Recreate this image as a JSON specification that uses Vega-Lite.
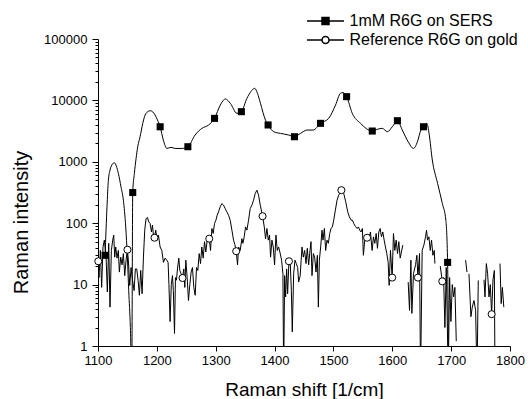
{
  "$schema": "https://vega.github.io/schema/vega-lite/v6.json",
  "width": 412,
  "height": 307,
  "autosize": {"type": "none"},
  "padding": {"left": 98, "top": 39, "right": 18, "bottom": 53},
  "background": "white",
  "config": {
    "view": {"stroke": null},
    "font": "Liberation Sans",
    "axis": {
      "grid": false,
      "domainColor": "black",
      "tickColor": "black",
      "labelColor": "black",
      "titleColor": "black",
      "labelFont": "Liberation Sans",
      "titleFont": "Liberation Sans",
      "labelFontSize": 13,
      "titleFontSize": 19,
      "titleFontWeight": "normal",
      "domainWidth": 1,
      "tickWidth": 1
    },
    "legend": {
      "labelFont": "Liberation Sans",
      "labelFontSize": 16,
      "labelColor": "black",
      "labelLimit": 400
    }
  },
  "datasets": {
    "sers": [
      {"x": 1112, "v": 30}, {"x": 1115.3, "v": 185}, {"x": 1117.6, "v": 500}, {"x": 1120.4, "v": 730},
      {"x": 1124.4, "v": 915}, {"x": 1127.8, "v": 965}, {"x": 1131.2, "v": 850}, {"x": 1134.6, "v": 645},
      {"x": 1139.1, "v": 390}, {"x": 1143.1, "v": 237}, {"x": 1147.1, "v": 87}, {"x": 1149.9, "v": 28},
      {"x": 1152.2, "v": 8}, {"x": 1155, "v": 2}, {"x": 1157.3, "v": 0.3}, {"x": 1159, "v": 316},
      {"x": 1161.8, "v": 646}, {"x": 1164.7, "v": 1135}, {"x": 1167.5, "v": 1760}, {"x": 1171.5, "v": 2560},
      {"x": 1176, "v": 4200}, {"x": 1180, "v": 5780}, {"x": 1184, "v": 6500}, {"x": 1188.6, "v": 6790},
      {"x": 1193, "v": 6500}, {"x": 1197, "v": 5780}, {"x": 1201, "v": 4800}, {"x": 1205.6, "v": 3720},
      {"x": 1211, "v": 2260}, {"x": 1217, "v": 1650}, {"x": 1224, "v": 1720}, {"x": 1231, "v": 1650},
      {"x": 1242.5, "v": 1650}, {"x": 1252.7, "v": 1760}, {"x": 1265, "v": 2730}, {"x": 1276.6, "v": 3510},
      {"x": 1288, "v": 3980}, {"x": 1298, "v": 5100}, {"x": 1307.8, "v": 8410}, {"x": 1316.3, "v": 10540},
      {"x": 1324.8, "v": 8970}, {"x": 1336, "v": 6170}, {"x": 1343.6, "v": 6550}, {"x": 1353, "v": 10800},
      {"x": 1360, "v": 14000}, {"x": 1366, "v": 15740}, {"x": 1371, "v": 13000}, {"x": 1376, "v": 8970},
      {"x": 1384.5, "v": 4790}, {"x": 1389, "v": 3980}, {"x": 1398.6, "v": 3090}, {"x": 1410, "v": 2900},
      {"x": 1424, "v": 2730}, {"x": 1433.8, "v": 2560}, {"x": 1444, "v": 2900}, {"x": 1455.5, "v": 3290},
      {"x": 1465.7, "v": 3290}, {"x": 1478, "v": 4230}, {"x": 1492, "v": 5100}, {"x": 1503.6, "v": 8410},
      {"x": 1512, "v": 13060}, {"x": 1516.7, "v": 13400}, {"x": 1522.4, "v": 11500}, {"x": 1532, "v": 6170},
      {"x": 1546, "v": 4230}, {"x": 1566, "v": 3170}, {"x": 1574.6, "v": 3380}, {"x": 1583, "v": 3510},
      {"x": 1591.7, "v": 3090}, {"x": 1600, "v": 3720}, {"x": 1608.7, "v": 4670}, {"x": 1617, "v": 3290},
      {"x": 1627, "v": 2120}, {"x": 1636, "v": 1650}, {"x": 1642.7, "v": 2120}, {"x": 1648.5, "v": 3290},
      {"x": 1653, "v": 3720}, {"x": 1658.7, "v": 4230}, {"x": 1662.7, "v": 2800}, {"x": 1668, "v": 1070},
      {"x": 1677, "v": 445}, {"x": 1685, "v": 210}, {"x": 1691, "v": 112}, {"x": 1694, "v": 23},
      {"x": 1695.6, "v": 0.3}
    ],
    "ref": [
      {"x": 1100, "v": 23}, {"x": 1101.7, "v": 13}, {"x": 1104, "v": 36}, {"x": 1106.2, "v": 9},
      {"x": 1108.5, "v": 41}, {"x": 1110.8, "v": 53}, {"x": 1113.6, "v": 30}, {"x": 1115.9, "v": 7.6},
      {"x": 1118.2, "v": 47}, {"x": 1120.4, "v": 4.3}, {"x": 1122.7, "v": 36}, {"x": 1125, "v": 53},
      {"x": 1126.7, "v": 64}, {"x": 1128.4, "v": 28}, {"x": 1130.1, "v": 41}, {"x": 1132.3, "v": 27},
      {"x": 1134.6, "v": 36}, {"x": 1136.3, "v": 16}, {"x": 1138.6, "v": 28}, {"x": 1140.9, "v": 21},
      {"x": 1143.1, "v": 32}, {"x": 1145.4, "v": 14}, {"x": 1147.7, "v": 25}, {"x": 1149.9, "v": 37},
      {"x": 1151.6, "v": 25}, {"x": 1153.9, "v": 9.7}, {"x": 1156.2, "v": 19}, {"x": 1158.5, "v": 12},
      {"x": 1161.3, "v": 8}, {"x": 1163.5, "v": 18}, {"x": 1165.8, "v": 18}, {"x": 1168.1, "v": 11.7},
      {"x": 1170.3, "v": 6.7}, {"x": 1172.6, "v": 17}, {"x": 1174.9, "v": 7.1}, {"x": 1177.2, "v": 28},
      {"x": 1179.4, "v": 77}, {"x": 1181.7, "v": 119}, {"x": 1184, "v": 124}, {"x": 1186.2, "v": 105},
      {"x": 1188.5, "v": 99}, {"x": 1190.8, "v": 72}, {"x": 1192.5, "v": 93}, {"x": 1194.2, "v": 64},
      {"x": 1195.9, "v": 58}, {"x": 1198.1, "v": 77}, {"x": 1200.4, "v": 53}, {"x": 1202.7, "v": 64},
      {"x": 1205.5, "v": 41}, {"x": 1208.4, "v": 36}, {"x": 1211.2, "v": 23}, {"x": 1214, "v": 27},
      {"x": 1216.9, "v": 25}, {"x": 1219.1, "v": 23}, {"x": 1220.5, "v": 10}, {"x": 1222.5, "v": 2.5},
      {"x": 1224.5, "v": 10}, {"x": 1226.5, "v": 14}, {"x": 1228, "v": 8}, {"x": 1230, "v": 1.6},
      {"x": 1231.6, "v": 13}, {"x": 1233.3, "v": 11.8}, {"x": 1235, "v": 18}, {"x": 1237.3, "v": 27},
      {"x": 1239, "v": 17}, {"x": 1241.3, "v": 15}, {"x": 1243.5, "v": 12.8}, {"x": 1245.8, "v": 18},
      {"x": 1247.5, "v": 9}, {"x": 1249.2, "v": 25}, {"x": 1251.5, "v": 13}, {"x": 1253.7, "v": 5.5},
      {"x": 1256, "v": 10}, {"x": 1258.3, "v": 16}, {"x": 1260.5, "v": 19}, {"x": 1262.8, "v": 9},
      {"x": 1265.1, "v": 6.7}, {"x": 1267.4, "v": 19}, {"x": 1269.6, "v": 17}, {"x": 1271.9, "v": 32},
      {"x": 1274.2, "v": 22}, {"x": 1276.4, "v": 41}, {"x": 1278.7, "v": 27}, {"x": 1281, "v": 50},
      {"x": 1283.2, "v": 34}, {"x": 1285.5, "v": 53}, {"x": 1289, "v": 56}, {"x": 1291.2, "v": 36},
      {"x": 1293.5, "v": 82}, {"x": 1295.7, "v": 68}, {"x": 1298, "v": 99}, {"x": 1300.3, "v": 112},
      {"x": 1302.5, "v": 135}, {"x": 1304.8, "v": 153}, {"x": 1307.6, "v": 185}, {"x": 1310.5, "v": 209},
      {"x": 1313.3, "v": 197}, {"x": 1316.1, "v": 173}, {"x": 1318.9, "v": 153}, {"x": 1321.8, "v": 135},
      {"x": 1324.6, "v": 112}, {"x": 1327.5, "v": 77}, {"x": 1330.3, "v": 53}, {"x": 1332.5, "v": 45},
      {"x": 1334.8, "v": 35}, {"x": 1337.1, "v": 21}, {"x": 1338.8, "v": 41}, {"x": 1341.6, "v": 36},
      {"x": 1344.5, "v": 56}, {"x": 1346.2, "v": 47}, {"x": 1348.4, "v": 60}, {"x": 1350.7, "v": 87},
      {"x": 1353, "v": 77}, {"x": 1355.8, "v": 112}, {"x": 1358.6, "v": 173}, {"x": 1361.5, "v": 197},
      {"x": 1364.3, "v": 237}, {"x": 1367.1, "v": 305}, {"x": 1370, "v": 345}, {"x": 1372.8, "v": 286},
      {"x": 1375.7, "v": 197}, {"x": 1379.6, "v": 130}, {"x": 1382.5, "v": 87}, {"x": 1384.7, "v": 56},
      {"x": 1387, "v": 82}, {"x": 1389.3, "v": 53}, {"x": 1391.5, "v": 64}, {"x": 1393.2, "v": 28},
      {"x": 1395.5, "v": 53}, {"x": 1397.8, "v": 41}, {"x": 1400, "v": 21}, {"x": 1402.3, "v": 64},
      {"x": 1404.6, "v": 36}, {"x": 1406.8, "v": 41}, {"x": 1409.7, "v": 32}, {"x": 1411.9, "v": 25},
      {"x": 1414.2, "v": 15}, {"x": 1415.4, "v": 0.3}, {"x": 1417.1, "v": 14}, {"x": 1418.8, "v": 6.3},
      {"x": 1420.5, "v": 18}, {"x": 1422.2, "v": 7.1}, {"x": 1424.4, "v": 24}, {"x": 1426.7, "v": 22},
      {"x": 1428.5, "v": 8}, {"x": 1430.1, "v": 1.7}, {"x": 1432.4, "v": 15}, {"x": 1434.7, "v": 25},
      {"x": 1436.9, "v": 22}, {"x": 1439.2, "v": 19}, {"x": 1440.9, "v": 11}, {"x": 1443.5, "v": 14},
      {"x": 1446.6, "v": 41}, {"x": 1448.8, "v": 28}, {"x": 1451.1, "v": 36}, {"x": 1453.4, "v": 22},
      {"x": 1455.6, "v": 39}, {"x": 1457.9, "v": 21}, {"x": 1460.2, "v": 36}, {"x": 1461.9, "v": 50},
      {"x": 1463.6, "v": 14}, {"x": 1465.9, "v": 32}, {"x": 1468.1, "v": 28}, {"x": 1470.4, "v": 16},
      {"x": 1472.7, "v": 30}, {"x": 1474.4, "v": 4.3}, {"x": 1476.1, "v": 25}, {"x": 1478.3, "v": 41},
      {"x": 1480.6, "v": 77}, {"x": 1482.3, "v": 53}, {"x": 1484.6, "v": 82}, {"x": 1486.8, "v": 36},
      {"x": 1489.1, "v": 53}, {"x": 1491.4, "v": 47}, {"x": 1493.7, "v": 68}, {"x": 1495.9, "v": 82},
      {"x": 1498.2, "v": 87}, {"x": 1500.5, "v": 112}, {"x": 1503.3, "v": 163}, {"x": 1506.1, "v": 237},
      {"x": 1509, "v": 286}, {"x": 1513.5, "v": 345}, {"x": 1517.5, "v": 305}, {"x": 1520.9, "v": 223},
      {"x": 1524.3, "v": 153}, {"x": 1527.1, "v": 127}, {"x": 1530, "v": 112}, {"x": 1532.3, "v": 112},
      {"x": 1534.5, "v": 99}, {"x": 1537.3, "v": 89}, {"x": 1540.2, "v": 82}, {"x": 1542.4, "v": 87},
      {"x": 1544.7, "v": 77}, {"x": 1546.9, "v": 72}, {"x": 1549.2, "v": 82}, {"x": 1550.9, "v": 30},
      {"x": 1553.2, "v": 53}, {"x": 1555.5, "v": 64}, {"x": 1557.2, "v": 58}, {"x": 1560.1, "v": 53},
      {"x": 1562.9, "v": 72}, {"x": 1565.7, "v": 36}, {"x": 1568, "v": 60}, {"x": 1570.3, "v": 47},
      {"x": 1572.6, "v": 68}, {"x": 1574.8, "v": 39}, {"x": 1577.1, "v": 72}, {"x": 1579.4, "v": 82},
      {"x": 1581.6, "v": 60}, {"x": 1583.9, "v": 72}, {"x": 1586.2, "v": 53}, {"x": 1588.4, "v": 41},
      {"x": 1590.7, "v": 32}, {"x": 1593, "v": 23}, {"x": 1594.7, "v": 9.7}, {"x": 1596.9, "v": 36},
      {"x": 1599.8, "v": 13}, {"x": 1602, "v": 68}, {"x": 1604.3, "v": 36}, {"x": 1606.6, "v": 53},
      {"x": 1608.9, "v": 32}, {"x": 1611.1, "v": 50}, {"x": 1613.4, "v": 27}, {"x": 1617.9, "v": 44},
      {"x": 1622, "v": null}, {"x": 1627, "v": 11}, {"x": 1629.3, "v": 3.8}, {"x": 1631.6, "v": 25},
      {"x": 1633.3, "v": 3.4}, {"x": 1636, "v": 15}, {"x": 1639.5, "v": 21}, {"x": 1641.8, "v": 30},
      {"x": 1643.5, "v": 13}, {"x": 1646.3, "v": 32}, {"x": 1648, "v": 0.3}, {"x": 1650.8, "v": 36},
      {"x": 1653.7, "v": 44}, {"x": 1656.5, "v": 60}, {"x": 1658.2, "v": 77}, {"x": 1659.9, "v": 53},
      {"x": 1662.2, "v": 60}, {"x": 1664.5, "v": 36}, {"x": 1666.7, "v": 53}, {"x": 1669, "v": 30},
      {"x": 1671.3, "v": 36}, {"x": 1672.4, "v": 22}, {"x": 1676, "v": null}, {"x": 1681.5, "v": 20},
      {"x": 1684.9, "v": 11.3}, {"x": 1687.2, "v": 13}, {"x": 1689.4, "v": 2}, {"x": 1691.7, "v": 19},
      {"x": 1693.4, "v": 2.6}, {"x": 1695, "v": 0.3}, {"x": 1697.4, "v": 13}, {"x": 1699.6, "v": 2.5},
      {"x": 1701.9, "v": 10}, {"x": 1704.2, "v": 6.3}, {"x": 1706.4, "v": 9}, {"x": 1708.7, "v": 1.2},
      {"x": 1715, "v": null}, {"x": 1724.6, "v": 25}, {"x": 1726.9, "v": 16}, {"x": 1728.5, "v": null},
      {"x": 1730.3, "v": 15}, {"x": 1733.6, "v": 3}, {"x": 1735.9, "v": 4.3}, {"x": 1738.8, "v": 5.5},
      {"x": 1741.6, "v": 3.8}, {"x": 1743.9, "v": 0.3}, {"x": 1746.1, "v": 11.7}, {"x": 1750, "v": null},
      {"x": 1755.8, "v": 12}, {"x": 1757.5, "v": 6.3}, {"x": 1759.8, "v": 22}, {"x": 1762, "v": 15},
      {"x": 1764.3, "v": 6.3}, {"x": 1766.5, "v": 10}, {"x": 1768.8, "v": 3.3}, {"x": 1771.1, "v": 12},
      {"x": 1773.4, "v": 17}, {"x": 1774.5, "v": 0.3}, {"x": 1777, "v": null}, {"x": 1783, "v": 22},
      {"x": 1785, "v": 4.9}, {"x": 1787, "v": 9}, {"x": 1789.5, "v": 4.3}
    ],
    "marks": [
      {"x": 1112, "v": 30, "series": "1mM R6G on SERS"},
      {"x": 1159, "v": 316, "series": "1mM R6G on SERS"},
      {"x": 1205.6, "v": 3720, "series": "1mM R6G on SERS"},
      {"x": 1252.7, "v": 1760, "series": "1mM R6G on SERS"},
      {"x": 1298, "v": 5100, "series": "1mM R6G on SERS"},
      {"x": 1343.6, "v": 6550, "series": "1mM R6G on SERS"},
      {"x": 1389, "v": 3980, "series": "1mM R6G on SERS"},
      {"x": 1433.8, "v": 2560, "series": "1mM R6G on SERS"},
      {"x": 1478, "v": 4230, "series": "1mM R6G on SERS"},
      {"x": 1522.4, "v": 11500, "series": "1mM R6G on SERS"},
      {"x": 1566, "v": 3170, "series": "1mM R6G on SERS"},
      {"x": 1608.7, "v": 4670, "series": "1mM R6G on SERS"},
      {"x": 1653, "v": 3720, "series": "1mM R6G on SERS"},
      {"x": 1694, "v": 23, "series": "1mM R6G on SERS"},
      {"x": 1100.5, "v": 24, "series": "Reference R6G on gold"},
      {"x": 1150, "v": 37, "series": "Reference R6G on gold"},
      {"x": 1196, "v": 58, "series": "Reference R6G on gold"},
      {"x": 1243.6, "v": 12.8, "series": "Reference R6G on gold"},
      {"x": 1289, "v": 56, "series": "Reference R6G on gold"},
      {"x": 1334.8, "v": 35, "series": "Reference R6G on gold"},
      {"x": 1379.6, "v": 130, "series": "Reference R6G on gold"},
      {"x": 1424.4, "v": 24, "series": "Reference R6G on gold"},
      {"x": 1513.5, "v": 345, "series": "Reference R6G on gold"},
      {"x": 1557.2, "v": 58, "series": "Reference R6G on gold"},
      {"x": 1599.8, "v": 13, "series": "Reference R6G on gold"},
      {"x": 1643.5, "v": 13, "series": "Reference R6G on gold"},
      {"x": 1684.9, "v": 11.3, "series": "Reference R6G on gold"},
      {"x": 1768.8, "v": 3.3, "series": "Reference R6G on gold"}
    ]
  },
  "layer": [
    {
      "data": {"name": "ref"},
      "mark": {"type": "line", "stroke": "black", "strokeWidth": 1, "clip": true, "invalid": "break-paths-filter-domains"},
      "encoding": {
        "x": {
          "field": "x", "type": "quantitative",
          "scale": {"domain": [1100, 1800], "nice": false, "zero": false},
          "axis": {
            "title": "Raman shift [1/cm]",
            "values": [1100, 1150, 1200, 1250, 1300, 1350, 1400, 1450, 1500, 1550, 1600, 1650, 1700, 1750, 1800],
            "labelExpr": "datum.value % 100 == 0 ? format(datum.value, 'd') : ''",
            "tickSize": {"condition": {"test": "datum.value % 100 == 0", "value": 5}, "value": 3},
            "labelPadding": 3,
            "labelFlush": false,
            "labelOverlap": false,
            "titlePadding": 13
          }
        },
        "y": {
          "field": "v", "type": "quantitative",
          "scale": {"type": "log", "domain": [1, 100000], "nice": false},
          "axis": {
            "title": "Raman intensity",
            "values": [1,2,3,4,5,6,7,8,9,10,20,30,40,50,60,70,80,90,100,200,300,400,500,600,700,800,900,1000,2000,3000,4000,5000,6000,7000,8000,9000,10000,20000,30000,40000,50000,60000,70000,80000,90000,100000],
            "labelExpr": "indexof([1,10,100,1000,10000,100000], datum.value) >= 0 ? format(datum.value, 'd') : ''",
            "tickSize": {"condition": {"test": "indexof([1,10,100,1000,10000,100000], datum.value) >= 0", "value": 6}, "value": 3},
            "labelPadding": 5,
            "labelOverlap": false,
            "titlePadding": 12,
            "titleY": 183,
            "titleFontSize": 20
          }
        }
      }
    },
    {
      "data": {"name": "sers"},
      "mark": {"type": "line", "stroke": "black", "strokeWidth": 1, "clip": true, "interpolate": "monotone", "invalid": "break-paths-filter-domains"},
      "encoding": {
        "x": {"field": "x", "type": "quantitative"},
        "y": {"field": "v", "type": "quantitative"}
      }
    },
    {
      "data": {"name": "marks"},
      "transform": [{"filter": "datum.series == '1mM R6G on SERS'"}],
      "mark": {"type": "point", "shape": "square", "filled": true, "fill": "black", "stroke": null, "size": 50, "opacity": 1},
      "encoding": {
        "x": {"field": "x", "type": "quantitative"},
        "y": {"field": "v", "type": "quantitative"}
      }
    },
    {
      "data": {"name": "marks"},
      "transform": [{"filter": "datum.series == 'Reference R6G on gold'"}],
      "mark": {"type": "point", "shape": "circle", "filled": true, "fill": "white", "stroke": "black", "strokeWidth": 1, "size": 50, "opacity": 1},
      "encoding": {
        "x": {"field": "x", "type": "quantitative"},
        "y": {"field": "v", "type": "quantitative"}
      }
    },
    {
      "data": {"name": "marks"},
      "mark": {"type": "point", "opacity": 0, "stroke": "black", "strokeWidth": 1},
      "encoding": {
        "x": {"field": "x", "type": "quantitative"},
        "y": {"field": "v", "type": "quantitative"},
        "shape": {
          "field": "series", "type": "nominal",
          "scale": {
            "domain": ["1mM R6G on SERS", "Reference R6G on gold"],
            "range": ["M-3.7,0H3.7M-0.7,-0.7H0.7V0.7H-0.7ZM-0.7,-0.5H0.7M-0.7,-0.3H0.7M-0.7,-0.1H0.7M-0.7,0.1H0.7M-0.7,0.3H0.7M-0.7,0.5H0.7", "M-3.7,0H-0.7M0.7,0H3.7M-0.7,0A0.7,0.7,0,1,0,0.7,0A0.7,0.7,0,1,0,-0.7,0Z"]
          },
          "legend": {
            "title": null,
            "orient": "none",
            "legendX": 219.5,
            "legendY": -26,
            "symbolSize": 100,
            "labelOffset": 16,
            "rowPadding": 3,
            "encode": {
              "symbols": {
                "update": {
                  "stroke": {"value": "black"},
                  "strokeWidth": {"value": 1},
                  "opacity": {"value": 1},
                  "strokeOpacity": {"value": 1}
                }
              }
            }
          }
        }
      }
    }
  ]
}
